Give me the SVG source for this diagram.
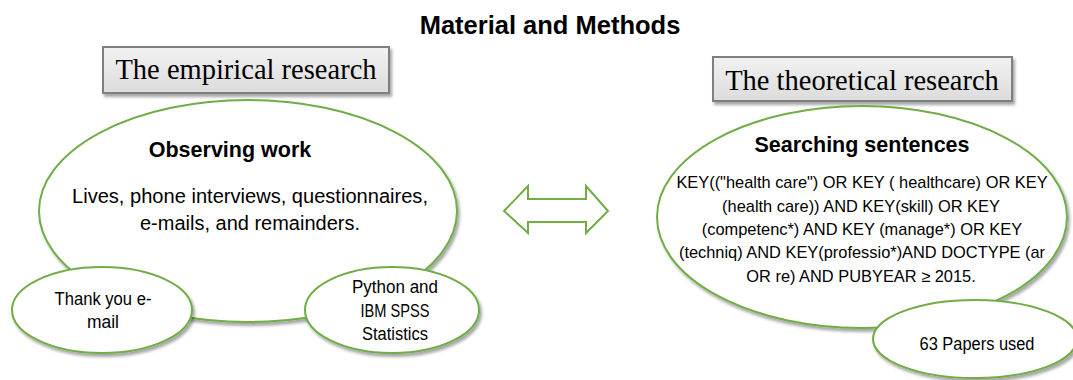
<svg xmlns="http://www.w3.org/2000/svg" width="1073" height="380" viewBox="0 0 1073 380">
  <defs>
    <filter id="shadow" x="-10%" y="-10%" width="125%" height="130%">
      <feDropShadow dx="2" dy="3" stdDeviation="1.5" flood-color="#000" flood-opacity="0.35"/>
    </filter>
    <linearGradient id="boxFill" x1="0" y1="0" x2="0" y2="1">
      <stop offset="0" stop-color="#f2f2f2"/>
      <stop offset="1" stop-color="#dcdcdc"/>
    </linearGradient>
    <style>
      .bubble { fill: #ffffff; stroke: #70ad47; stroke-width: 2; filter: url(#shadow); }
      .box { fill: url(#boxFill); stroke: #7f7f7f; stroke-width: 2; filter: url(#shadow); }
      .serif { font-family: "Liberation Serif", "Times New Roman", serif; font-size: 28.5px; fill: #000; text-anchor: middle; }
      .sans { font-family: "Liberation Sans", Arial, sans-serif; fill: #000; text-anchor: middle; }
      .head { font-weight: bold; font-size: 21.5px; }
      .body { font-size: 19.5px; }
      .small { font-size: 17.5px; }
      .query { font-size: 16.4px; }
      .arrow { fill: #ffffff; stroke: #70ad47; stroke-width: 2; }
    </style>
  </defs>

  <rect width="1073" height="380" fill="#ffffff"/>

  <text class="sans" x="550" y="34" font-size="25.5" font-weight="bold">Material and Methods</text>

  <!-- section labels -->
  <g id="empirical-label">
    <rect class="box" x="103" y="47" width="286" height="46"/>
    <text class="serif" x="246" y="79">The empirical research</text>
  </g>
  <g id="theoretical-label">
    <rect class="box" x="713" y="57" width="299" height="44"/>
    <text class="serif" x="862" y="90">The theoretical research</text>
  </g>

  <!-- empirical side -->
  <g id="observing-work">
    <ellipse class="bubble" cx="248" cy="211" rx="209" ry="111"/>
    <text class="sans head" x="230" y="157">Observing work</text>
    <text class="sans body" x="250" y="203" textLength="356" lengthAdjust="spacingAndGlyphs">Lives, phone interviews, questionnaires,</text>
    <text class="sans body" x="250" y="230" textLength="220" lengthAdjust="spacingAndGlyphs">e-mails, and remainders.</text>
  </g>
  <g id="thank-you">
    <ellipse class="bubble" cx="102" cy="310" rx="90" ry="43"/>
    <text class="sans small" x="103" y="305" textLength="97" lengthAdjust="spacingAndGlyphs">Thank you e-</text>
    <text class="sans small" x="103" y="328" textLength="32" lengthAdjust="spacingAndGlyphs">mail</text>
  </g>
  <g id="software">
    <ellipse class="bubble" cx="392" cy="310" rx="87" ry="43"/>
    <text class="sans small" x="395" y="293" textLength="86" lengthAdjust="spacingAndGlyphs">Python and</text>
    <text class="sans small" x="395" y="317" textLength="69" lengthAdjust="spacingAndGlyphs">IBM SPSS</text>
    <text class="sans small" x="395" y="340" textLength="66" lengthAdjust="spacingAndGlyphs">Statistics</text>
  </g>

  <!-- theoretical side -->
  <g id="searching-sentences">
    <ellipse class="bubble" cx="862" cy="217" rx="205" ry="111"/>
    <text class="sans head" x="862" y="152">Searching sentences</text>
    <text class="sans query" x="862" y="188">KEY(("health care") OR KEY ( healthcare) OR KEY</text>
    <text class="sans query" x="861" y="212">(health care)) AND KEY(skill) OR KEY</text>
    <text class="sans query" x="862" y="235">(competenc*) AND KEY (manage*) OR KEY</text>
    <text class="sans query" x="862" y="258">(techniq) AND KEY(professio*)AND DOCTYPE (ar</text>
    <text class="sans query" x="861" y="282">OR re) AND PUBYEAR ≥ 2015.</text>
  </g>
  <g id="papers-used">
    <ellipse class="bubble" cx="975" cy="339" rx="102" ry="39"/>
    <text class="sans small" x="977" y="350" textLength="115" lengthAdjust="spacingAndGlyphs">63 Papers used</text>
  </g>

  <!-- link between the two research strands -->
  <g id="connectors">
    <path class="arrow" d="M504,211 L528,186 L528,199 L586,199 L586,186 L608,211 L586,233 L586,222 L528,222 L528,233 Z"/>
  </g>
</svg>
